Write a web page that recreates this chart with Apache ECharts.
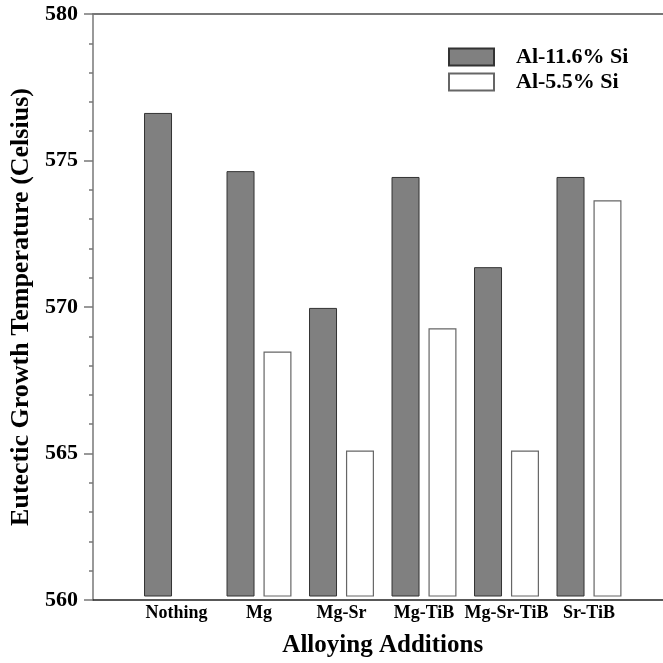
<!DOCTYPE html>
<html>
<head>
<meta charset="utf-8">
<script src="https://cdn.jsdelivr.net/npm/echarts@6/dist/echarts.min.js"></script>
<style>html,body{margin:0;padding:0;background:#fff;}#c{width:663px;height:663px;}</style>
</head>
<body>
<div id="c"></div>
<script>
const categories = ['Nothing', 'Mg', 'Mg-Sr', 'Mg-TiB', 'Mg-Sr-TiB', 'Sr-TiB'];
const al116 = [576.6, 574.6, 569.9, 574.4, 571.3, 574.4];
const al55 = [null, 568.4, 565.0, 569.2, 565.0, 573.6];
const seriesNames = ['Al-11.6% Si', 'Al-5.5% Si'];
const yMin = 560, yMax = 580, yStep = 5;

const FONT = '"Liberation Serif", "Times New Roman", serif';
const chart = echarts.init(document.getElementById('c'), null, {renderer: 'canvas'});
chart.setOption({
  animation: false,
  backgroundColor: '#fff',
  grid: [
    {left: 93, right: 0, top: 14, bottom: 63},
    {left: 135.25, width: 495, top: 14, bottom: 63}
  ],
  legend: {
    left: 443, top: 41, orient: 'vertical',
    itemWidth: 45, itemHeight: 17, itemGap: 3,
    icon: 'rect',
    textStyle: {fontFamily: FONT, fontWeight: 'bold', fontSize: 22, color: '#000', padding: [0,0,0,17]},
    data: seriesNames
  },
  xAxis: [
    {type: 'value', gridIndex: 0, min: 0, max: 1, position: 'bottom',
     axisLine: {show: true, lineStyle: {color: '#222', width: 1.5}},
     axisTick: {show: false}, axisLabel: {show: false}, splitLine: {show: false}},
    {type: 'value', gridIndex: 0, min: 0, max: 1, position: 'top',
     axisLine: {show: true, lineStyle: {color: '#777', width: 2}},
     axisTick: {show: false}, axisLabel: {show: false}, splitLine: {show: false}},
    {type: 'category', gridIndex: 1, data: categories,
     axisLine: {show: false}, axisTick: {show: false},
     axisLabel: {fontFamily: FONT, fontWeight: 'bold', fontSize: 18, color: '#000', margin: 8, interval: 0},
     name: 'Alloying Additions', nameLocation: 'middle', nameGap: 37,
     nameTextStyle: {fontFamily: FONT, fontWeight: 'bold', fontSize: 25, color: '#000'}}
  ],
  yAxis: [
    {type: 'value', gridIndex: 0, min: yMin, max: yMax, interval: yStep,
     axisLine: {show: true, lineStyle: {color: '#777', width: 1.5}},
     axisTick: {show: true, inside: false, length: 9, lineStyle: {color: '#777', width: 1.5}},
     minorTick: {show: true, splitNumber: 5, length: 4, lineStyle: {color: '#777', width: 1.5}},
     axisLabel: {fontFamily: FONT, fontWeight: 'bold', fontSize: 22, color: '#000', margin: 15},
     splitLine: {show: false},
     name: 'Eutectic Growth Temperature (Celsius)', nameLocation: 'middle', nameGap: 56,
     nameTextStyle: {fontFamily: FONT, fontWeight: 'bold', fontSize: 26, color: '#000'}},
    {type: 'value', gridIndex: 1, min: yMin, max: yMax, interval: yStep, show: false}
  ],
  series: [
    {name: seriesNames[0], type: 'bar', xAxisIndex: 2, yAxisIndex: 1, data: al116,
     barWidth: 28, barGap: '32%',
     itemStyle: {color: '#808080', borderColor: '#333', borderWidth: 1}},
    {name: seriesNames[1], type: 'bar', xAxisIndex: 2, yAxisIndex: 1, data: al55,
     barWidth: 28, barGap: '32%',
     itemStyle: {color: '#fff', borderColor: '#666', borderWidth: 1.2}}
  ]
});
</script>
</body>
</html>
